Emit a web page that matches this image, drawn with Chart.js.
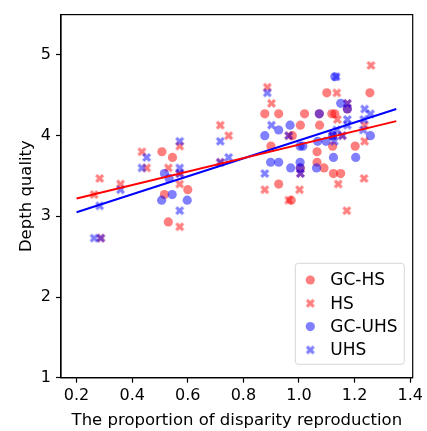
<!DOCTYPE html>
<html>
<head>
<meta charset="utf-8">
<script src="https://cdn.jsdelivr.net/npm/chart.js@4"></script>
<style>
  body { margin: 0; background: #fff; }
</style>
</head>
<body>
<canvas id="myChart" width="427" height="431"></canvas>
<script>
'use strict';

// ********** DATA **********

let seriesNames = ['GC-HS', 'HS', 'GC-UHS', 'UHS'];

let gcHsX = [0.507, 0.545, 0.516, 0.530, 0.600, 0.877, 0.927, 0.899, 0.927, 0.976, 0.972, 1.005, 1.020, 1.005,
  1.065, 1.065, 1.074, 1.073, 1.100, 1.090, 1.118, 1.129, 1.121, 1.124, 1.150, 1.202, 1.255, 1.174];
let gcHsY = [3.80, 3.73, 3.27, 2.93, 3.33, 4.27, 4.27, 3.87, 3.40, 4.00, 3.20, 4.13, 4.27, 3.60,
  3.80, 3.67, 4.13, 4.27, 4.53, 3.60, 4.27, 4.27, 3.87, 3.53, 3.53, 3.87, 4.53, 4.33];

let hsX = [0.263, 0.283, 0.287, 0.358, 0.435, 0.452, 0.530, 0.571, 0.571, 0.571, 0.571, 0.717, 0.747, 0.717,
  0.886, 0.901, 0.963, 0.877, 1.002, 0.963, 1.005, 1.259, 1.136, 1.174, 1.138, 1.236, 1.156, 1.236,
  1.141, 1.234, 1.172, 1.121];
let hsY = [3.27, 3.47, 2.73, 3.40, 3.80, 3.60, 3.60, 3.87, 3.53, 3.40, 2.87, 4.13, 4.00, 3.67,
  4.60, 4.40, 4.00, 3.33, 3.33, 3.20, 3.53, 4.87, 4.53, 4.40, 4.20, 4.13, 4.00, 3.93,
  3.40, 3.47, 3.07, 4.00];

let gcUhsX = [0.516, 0.533, 0.544, 0.506, 0.598, 0.877, 0.927, 0.968, 1.004, 1.014, 0.898, 0.927, 0.970,
  1.004, 1.004, 1.063, 1.073, 1.129, 1.150, 1.174, 1.067, 1.097, 1.124, 1.204, 1.257, 1.121];
let gcUhsY = [3.53, 3.47, 3.27, 3.20, 3.20, 4.00, 4.07, 4.13, 3.87, 3.87, 3.67, 3.67, 3.60,
  3.67, 3.60, 3.60, 4.27, 4.73, 4.40, 4.33, 3.93, 3.93, 3.73, 3.73, 4.00, 4.00];

let uhsX = [0.263, 0.287, 0.283, 0.358, 0.452, 0.435, 0.571, 0.571, 0.571, 0.571, 0.717, 0.747, 0.717,
  0.886, 0.901, 0.963, 0.877, 1.005, 1.134, 1.174, 1.236, 1.257, 1.174, 1.233, 1.174, 1.136,
  1.121, 1.156, 1.231, 1.127];
let uhsY = [2.73, 2.73, 3.13, 3.33, 3.73, 3.60, 3.93, 3.60, 3.53, 3.07, 3.93, 3.73, 3.67,
  4.53, 4.13, 4.00, 3.53, 3.53, 4.73, 4.40, 4.33, 4.27, 4.20, 4.20, 4.13, 4.07,
  4.00, 4.00, 4.07, 3.93];

// fitted lines (endpoints)
let fitX = [0.2, 1.35];
let hsFitY = [3.22, 4.18];
let uhsFitY = [3.05, 4.33];

let xTicks = [0.2, 0.4, 0.6, 0.8, 1.0, 1.2, 1.4];
let yTicks = [1, 2, 3, 4, 5];

// ********** HELPER FUNCTIONS **********

const RED = 'rgba(255,0,0,0.5)';
const BLUE = 'rgba(0,0,255,0.5)';
const FONT = 'DejaVu Sans';

function toPoints(xs, ys) {
  let pts = [];
  for (let i = 0; i < xs.length; i++) {
    pts.push({x: xs[i], y: ys[i]});
  }
  return pts;
}

// filled "X" like matplotlib's marker
function makeXMarker(color, size) {
  let c = document.createElement('canvas');
  c.width = size + 2;
  c.height = size + 2;
  let ctx = c.getContext('2d');
  let shape = [[-0.25, -0.5], [0, -0.25], [0.25, -0.5], [0.5, -0.25], [0.25, 0], [0.5, 0.25],
    [0.25, 0.5], [0, 0.25], [-0.25, 0.5], [-0.5, 0.25], [-0.25, 0], [-0.5, -0.25]];
  ctx.fillStyle = color;
  ctx.beginPath();
  shape.forEach((p, i) => {
    let px = c.width / 2 + p[0] * size;
    let py = c.height / 2 + p[1] * size;
    if (i === 0) ctx.moveTo(px, py); else ctx.lineTo(px, py);
  });
  ctx.closePath();
  ctx.fill();
  return c;
}

let redX = makeXMarker(RED, 9);
let blueX = makeXMarker(BLUE, 9);

// frame round the plot + legend in lower right corner
let framePlugin = {
  id: 'frame',
  afterDraw(chart) {
    let ctx = chart.ctx;
    let a = chart.chartArea;
    ctx.save();
    ctx.strokeStyle = '#000';
    ctx.lineWidth = 1.2;
    ctx.strokeRect(a.left, a.top, a.right - a.left, a.bottom - a.top);

    // legend box
    let bw = 109, bh = 101;
    let bx = a.right - 8.4 - bw;
    let by = a.bottom - 13.4 - bh;
    ctx.beginPath();
    ctx.roundRect(bx, by, bw, bh, 3);
    ctx.fillStyle = 'rgba(255,255,255,0.8)';
    ctx.fill();
    ctx.strokeStyle = '#d6d6d6';
    ctx.lineWidth = 1;
    ctx.stroke();

    let styles = [
      {kind: 'circle', color: RED},
      {kind: 'x', img: redX},
      {kind: 'circle', color: BLUE},
      {kind: 'x', img: blueX}
    ];
    ctx.font = '17px "' + FONT + '"';
    ctx.textBaseline = 'middle';
    ctx.textAlign = 'left';
    for (let i = 0; i < seriesNames.length; i++) {
      let cy = by + 16.7 + i * 23.3;
      let mx = bx + 15;
      if (styles[i].kind === 'circle') {
        ctx.beginPath();
        ctx.arc(mx, cy, 4.6, 0, Math.PI * 2);
        ctx.fillStyle = styles[i].color;
        ctx.fill();
      } else {
        let im = styles[i].img;
        ctx.drawImage(im, mx - im.width / 2, cy - im.height / 2);
      }
      ctx.fillStyle = '#000';
      ctx.fillText(seriesNames[i], bx + 35, cy + 1);
    }
    ctx.restore();
  }
};

// ********** CHART **********

let chartData = {
  type: 'scatter',
  data: {
    datasets: [
      {label: 'HS fit', type: 'line', data: toPoints(fitX, hsFitY), borderColor: 'red',
        borderWidth: 2, pointRadius: 0, fill: false, order: 0},
      {label: 'UHS fit', type: 'line', data: toPoints(fitX, uhsFitY), borderColor: 'blue',
        borderWidth: 2, pointRadius: 0, fill: false, order: 0},
      {label: seriesNames[0], data: toPoints(gcHsX, gcHsY), pointStyle: 'circle', pointRadius: 4.6,
        backgroundColor: RED, borderWidth: 0, order: 4},
      {label: seriesNames[1], data: toPoints(hsX, hsY), pointStyle: redX, order: 3},
      {label: seriesNames[2], data: toPoints(gcUhsX, gcUhsY), pointStyle: 'circle', pointRadius: 4.6,
        backgroundColor: BLUE, borderWidth: 0, order: 2},
      {label: seriesNames[3], data: toPoints(uhsX, uhsY), pointStyle: blueX, order: 1}
    ]
  },
  options: {
    responsive: false,
    animation: false,
    events: [],
    layout: {padding: {top: 12.7, right: 11.3, left: 0, bottom: 0}},
    plugins: {legend: {display: false}, tooltip: {enabled: false}},
    scales: {
      x: {
        type: 'linear',
        min: 0.144,
        max: 1.409,
        afterBuildTicks: (s) => { s.ticks = xTicks.map(v => ({value: v})); },
        afterFit: (s) => { s.height = 53.3; },
        ticks: {callback: (v) => Number(v).toFixed(1), color: '#000', padding: 4,
          font: {family: FONT, size: 16}, maxRotation: 0},
        grid: {drawOnChartArea: false, tickLength: 5, tickColor: '#000', tickWidth: 1.2},
        border: {color: '#000', width: 1.2},
        title: {display: true, text: 'The proportion of disparity reproduction', color: '#000',
          font: {family: FONT, size: 16.5}, padding: {top: 0, bottom: 0}}
      },
      y: {
        min: 1,
        max: 5.5,
        afterBuildTicks: (s) => { s.ticks = yTicks.map(v => ({value: v})); },
        afterFit: (s) => { s.width = 61; },
        ticks: {callback: (v) => String(v), color: '#000', padding: 5,
          font: {family: FONT, size: 16}},
        grid: {drawOnChartArea: false, tickLength: 5, tickColor: '#000', tickWidth: 1.2},
        border: {color: '#000', width: 1.2},
        title: {display: true, text: 'Depth quality', color: '#000',
          font: {family: FONT, size: 16.5}, padding: {top: 17, bottom: 0}}
      }
    }
  },
  plugins: [framePlugin]
};

new Chart(document.querySelector('#myChart'), chartData);
</script>
</body>
</html>
